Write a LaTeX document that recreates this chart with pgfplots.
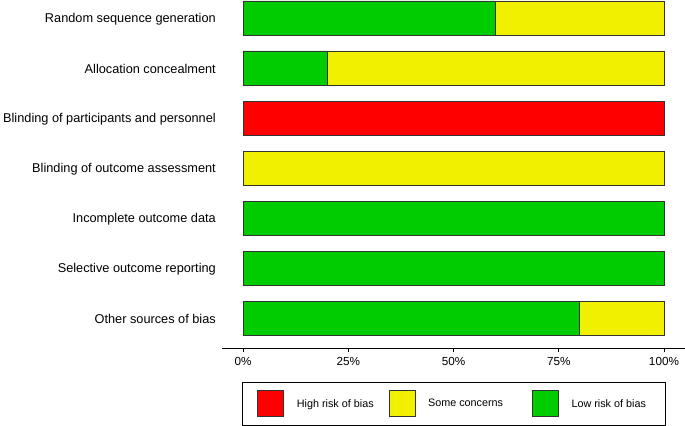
\documentclass[border=0pt]{standalone}
\usepackage{fontspec}
\setmainfont{Liberation Sans}
\usepackage{pgfplots}
\pgfplotsset{compat=1.18}
\definecolor{rgreen}{HTML}{00CC00}
\definecolor{ryellow}{HTML}{F0F000}
\definecolor{rred}{HTML}{FF0000}
\definecolor{edge}{HTML}{333333}
\begin{document}
\begin{tikzpicture}
\useasboundingbox (0,0) rectangle (685bp,426bp);
\begin{axis}[
  at={(222bp,78bp)}, anchor=south west,
  scale only axis, width=463bp, height=348bp,
  xbar stacked, bar width=0.68,
  xmin=-5, xmax=105,
  ymin=-0.36, ymax=6.6, y dir=reverse,
  axis x line*=bottom, axis y line*=left,
  y axis line style={draw=none},
  x axis line style={line width=0.9bp, black},
  ytick={0,1,2,3,4,5,6},
  yticklabels={Random sequence generation,Allocation concealment,Blinding of participants and personnel,Blinding of outcome assessment,Incomplete outcome data,Selective outcome reporting,Other sources of bias},
  ytick style={draw=none},
  yticklabel style={font=\fontsize{12.75bp}{15bp}\selectfont, inner xsep=0pt, xshift=-2bp, yshift=-1bp},
  xtick={0,25,50,75,100},
  xticklabels={0\%,25\%,50\%,75\%,100\%},
  xticklabel style={font=\fontsize{11.7bp}{14bp}\selectfont, inner sep=0pt, yshift=-5bp},
  tick align=outside, major tick length=4bp,
  xtick style={black, line width=0.9bp},
  reverse legend,
  legend columns=3,
  legend style={at={(0.0432,-0.0977)}, anchor=north west, draw=black, line width=0.9bp,
    inner xsep=15bp, inner ysep=8bp,
    font=\fontsize{10.8bp}{13bp}\selectfont,
    nodes={inner sep=0pt}},
  legend cell align=left,
]
\addplot[fill=rgreen, draw=edge, line width=0.8bp,
  legend image code/.code={\draw[fill=rgreen, draw=edge, line width=0.8bp] (0bp,-13bp) rectangle (26bp,13bp); \path[draw=none] (39bp,0bp);}]
  coordinates {(60,0) (20,1) (0,2) (0,3) (100,4) (100,5) (80,6)};
\addlegendentry{Low risk of bias\kern5bp}
\addplot[fill=ryellow, draw=edge, line width=0.8bp,
  legend image code/.code={\draw[fill=ryellow, draw=edge, line width=0.8bp] (0bp,-13bp) rectangle (26bp,13bp); \path[draw=none] (39bp,0bp);}]
  coordinates {(40,0) (80,1) (0,2) (100,3) (0,4) (0,5) (20,6)};
\addlegendentry{Some concerns\kern29bp}
\addplot[fill=rred, draw=edge, line width=0.8bp,
  legend image code/.code={\draw[fill=rred, draw=edge, line width=0.8bp] (0bp,-13bp) rectangle (26bp,13bp); \path[draw=none] (39bp,0bp);}]
  coordinates {(0,0) (0,1) (100,2) (0,3) (0,4) (0,5) (0,6)};
\addlegendentry{High risk of bias\kern15bp}
\end{axis}
\end{tikzpicture}
\end{document}
